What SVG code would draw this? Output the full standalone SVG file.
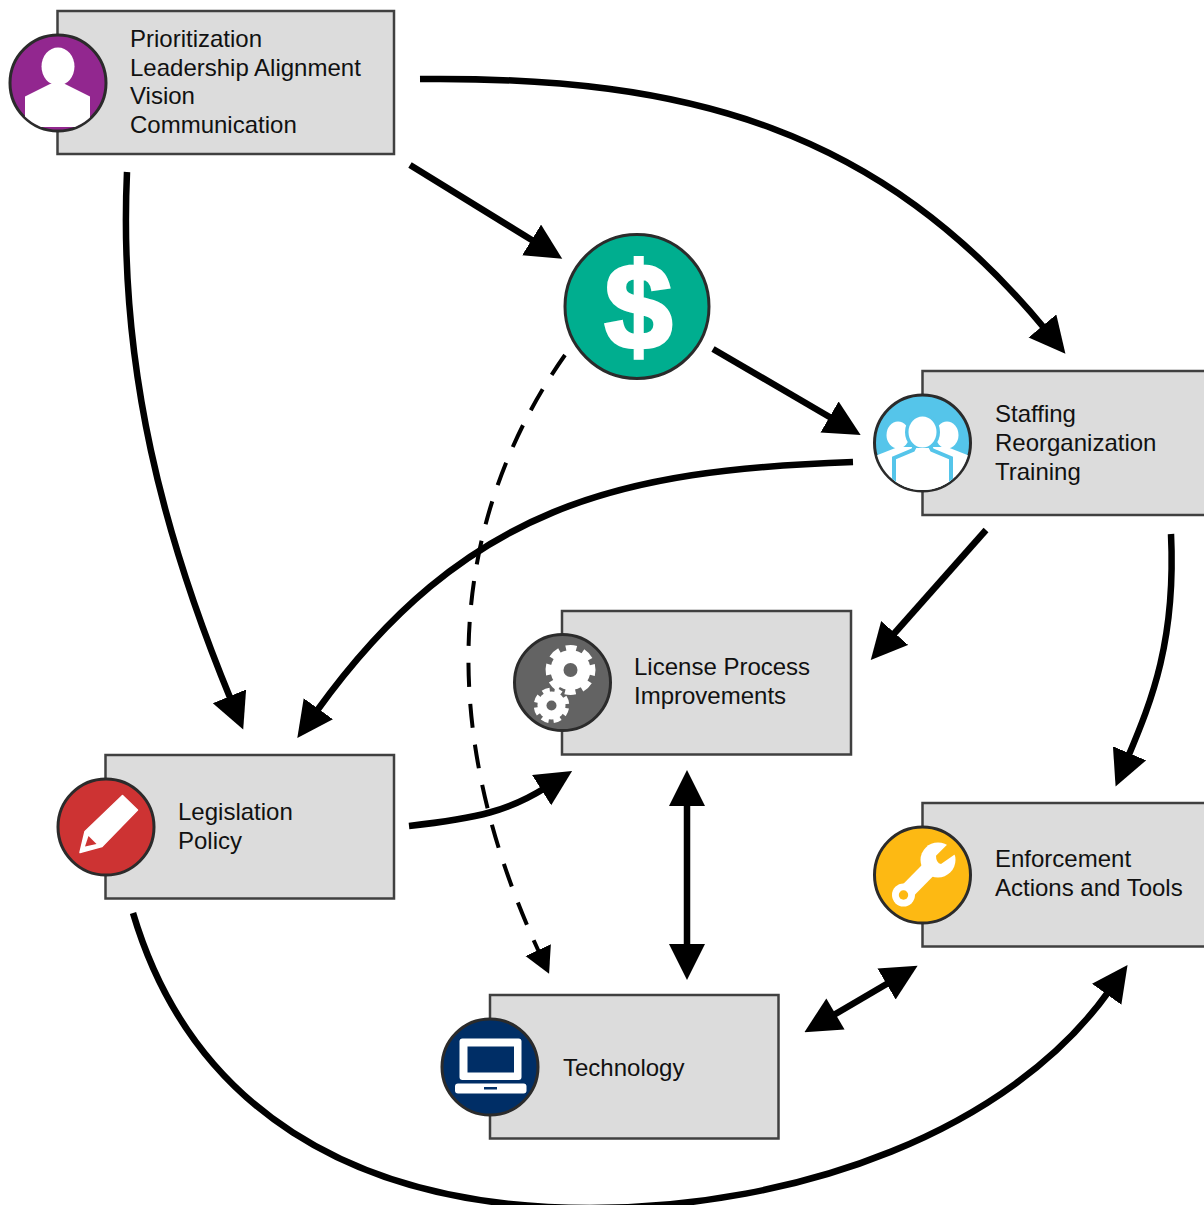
<svg xmlns="http://www.w3.org/2000/svg" width="1204" height="1205" viewBox="0 0 1204 1205">
<style>
.box{fill:#dcdcdc;stroke:#404040;stroke-width:2.5}
.ring{stroke:#2b2b2b;stroke-width:3}
.lbl{font-family:"Liberation Sans",Arial,sans-serif;font-size:24px;fill:#111}
.ic{fill:#fff}
.c{fill:none;stroke:#000;stroke-width:6.5}
.a{marker-end:url(#h)}
.b{marker-start:url(#hs);marker-end:url(#h)}
</style>
<defs>
<marker id="h" markerUnits="userSpaceOnUse" markerWidth="40" markerHeight="40" refX="4" refY="18" orient="auto"><path d="M0,0L36,18L0,36Z" fill="#000"/></marker>
<marker id="hs" markerUnits="userSpaceOnUse" markerWidth="40" markerHeight="40" refX="32" refY="18" orient="auto"><path d="M36,0L0,18L36,36Z" fill="#000"/></marker>
<marker id="hd" markerUnits="userSpaceOnUse" markerWidth="30" markerHeight="30" refX="2" refY="14" orient="auto"><path d="M0,0L26,14L0,28Z" fill="#000"/></marker>
<clipPath id="c1"><circle cx="58" cy="83" r="47"/></clipPath>
<clipPath id="c2"><circle cx="922.5" cy="443" r="47"/></clipPath>
</defs>
<g id="connectors">
<path class="c a" d="M127,172C118,370 165,540 231,700"/>
<path class="c a" d="M410,165L535,242"/>
<path class="c a" d="M420,79C690,76 880,130 1045,329"/>
<path class="c a" d="M713,349L833,419"/>
<path class="c a" d="M853,462C620,470 465,505 316,712"/>
<path class="c a" d="M986,530L892,636"/>
<path class="c a" d="M1171,534C1176,640 1152,700 1128,757"/>
<path class="c a" d="M409,826C480,818 510,810 545,788"/>
<path class="c b" d="M687,802L687,948"/>
<path class="c b" d="M832,1016L890,982"/>
<path class="c a" d="M133,913C190,1105 350,1208 590,1208C800,1208 1010,1130 1109,991"/>
<path d="M565,355C470,490 418,690 539,952" fill="none" stroke="#000" stroke-width="4" stroke-dasharray="24 17" marker-end="url(#hd)"/>
</g>
<g id="node-leadership">
<rect class="box" x="57.500" y="11" width="336.500" height="143"/>
<circle class="ring" cx="58" cy="83" r="48" fill="#92278f"/>
<g clip-path="url(#c1)" class="ic"><ellipse cx="58" cy="66.500" rx="16.500" ry="19"/><path d="M50,84L65,84L90,96.500V127H25V96.500Z"/></g>
<text class="lbl" x="130" y="46.500">Prioritization</text>
<text class="lbl" x="130" y="75.500">Leadership Alignment</text>
<text class="lbl" x="130" y="104">Vision</text>
<text class="lbl" x="130" y="133">Communication</text>
</g>
<g id="node-funding">
<circle cx="637" cy="306.500" r="72" fill="#00ae8f" stroke="#2b2b2b" stroke-width="3"/>
<text x="638.500" y="348.500" text-anchor="middle" style="font-family:'Liberation Sans',Arial,sans-serif;font-size:122px;font-weight:700;fill:#fff;stroke:#fff;stroke-width:3.5">$</text>
</g>
<g id="node-staffing">
<rect class="box" x="922.500" y="371" width="290" height="144"/>
<circle class="ring" cx="922.500" cy="443" r="48" fill="#55c5ea"/>
<g clip-path="url(#c2)">
<ellipse class="ic" cx="898" cy="435" rx="11.500" ry="13.500"/><ellipse class="ic" cx="947" cy="435" rx="11.500" ry="13.500"/>
<path class="ic" d="M870,458L898,447L947,447L975,458V495H870Z"/>
<ellipse cx="922.500" cy="432" rx="17.500" ry="19" fill="#55c5ea"/>
<path class="ic" d="M894,500V458L913,450L915,446H930L932,450L951,458V500Z" stroke="#55c5ea" stroke-width="4"/>
<ellipse class="ic" cx="922.500" cy="432" rx="14" ry="15.500"/>
</g>
<text class="lbl" x="995" y="422">Staffing</text>
<text class="lbl" x="995" y="451">Reorganization</text>
<text class="lbl" x="995" y="480">Training</text>
</g>
<g id="node-license">
<rect class="box" x="562" y="611" width="289" height="143.500"/>
<circle class="ring" cx="562.500" cy="682.500" r="48" fill="#636363"/>
<circle cx="570.500" cy="670" r="21" fill="none" stroke="#fff" stroke-width="8" stroke-dasharray="10 6.490" transform="rotate(-13.600 570.500 670)"/>
<circle class="ic" cx="570.500" cy="670" r="20"/><circle cx="570.500" cy="670" r="7" fill="#636363"/>
<circle cx="551.500" cy="705.500" r="15" fill="none" stroke="#fff" stroke-width="5.500" stroke-dasharray="7 4.780" transform="rotate(10 551.500 705.500)"/>
<circle class="ic" cx="551.500" cy="705.500" r="14"/><circle cx="551.500" cy="705.500" r="5" fill="#636363"/>
<text class="lbl" x="634" y="675">License Process</text>
<text class="lbl" x="634" y="704">Improvements</text>
</g>
<g id="node-legislation">
<rect class="box" x="105.500" y="755" width="288.500" height="143.500"/>
<circle class="ring" cx="106" cy="827" r="48" fill="#cd3333"/>
<path class="ic" d="M122.500,795.500L137.500,810L102,846.500L80,852.500L85,831.500Z" stroke="#fff" stroke-width="1.500" stroke-linejoin="round"/>
<path d="M88.500,836L96.500,844L85,846.500Z" fill="#cd3333"/>
<text class="lbl" x="178" y="820">Legislation</text>
<text class="lbl" x="178" y="849">Policy</text>
</g>
<g id="node-enforcement">
<rect class="box" x="922.500" y="803" width="290" height="143.500"/>
<circle class="ring" cx="922.500" cy="875" r="48" fill="#fdb913"/>
<path d="M903.500,895L936,862" fill="none" stroke="#fff" stroke-width="16"/>
<circle class="ic" cx="903.500" cy="895" r="11.500"/>
<circle class="ic" cx="938" cy="860" r="17.500"/>
<path d="M946,845.700L936,855.700Q936,863 941,864L955,854.300L958,851L950,842Z" fill="#fdb913"/>
<circle cx="903.500" cy="895" r="4.700" fill="#fdb913"/>
<text class="lbl" x="995" y="867">Enforcement</text>
<text class="lbl" x="995" y="896">Actions and Tools</text>
</g>
<g id="node-technology">
<rect class="box" x="490" y="995" width="288.500" height="143.500"/>
<circle class="ring" cx="490" cy="1067" r="48" fill="#002e66"/>
<rect class="ic" x="459.500" y="1038.500" width="62" height="41.500" rx="3"/>
<rect x="467.500" y="1046.500" width="46.500" height="26" fill="#002e66"/>
<rect class="ic" x="455" y="1083.500" width="71.500" height="10" rx="3"/>
<rect x="484" y="1087" width="13" height="2.500" fill="#002e66"/>
<text class="lbl" x="563" y="1076">Technology</text>
</g>
</svg>
